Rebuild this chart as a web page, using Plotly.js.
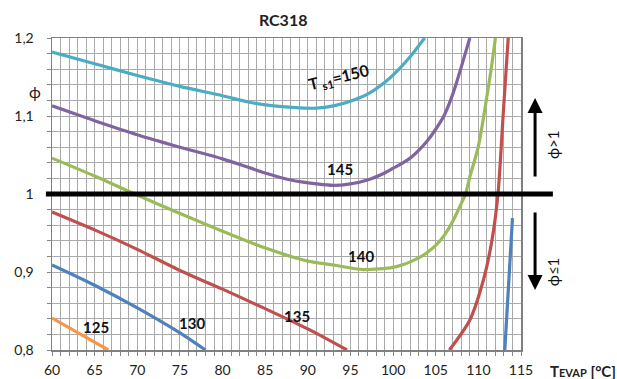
<!DOCTYPE html>
<html>
<head>
<meta charset="utf-8">
<script src="https://cdn.plot.ly/plotly-3.0.1.min.js"></script>
<style>html,body{margin:0;padding:0;background:#fff;}#chart{width:617px;height:379px;}</style>
</head>
<body>
<div id="chart"></div>
<script>
// Ts1 = 150
const x150 = [60, 65, 70, 75, 80, 83, 86, 89, 91, 93, 95, 97, 99, 100.5, 102, 103.7];
const y150 = [1.182, 1.167, 1.152, 1.138, 1.126, 1.118, 1.113, 1.1105, 1.110, 1.113, 1.119, 1.128, 1.143, 1.158, 1.176, 1.2];
// Ts1 = 145
const x145 = [60, 65, 70, 75, 80, 85, 88, 91, 93, 95, 97, 99, 100, 101, 102, 103, 104, 105, 106, 107, 108, 109];
const y145 = [1.113, 1.094, 1.076, 1.060, 1.045, 1.027, 1.018, 1.013, 1.011, 1.013, 1.018, 1.027, 1.033, 1.039, 1.046, 1.056, 1.068, 1.083, 1.101, 1.128, 1.163, 1.2];
// Ts1 = 140
const x140 = [60, 65, 70.3, 77.4, 85.2, 90, 93, 96.5, 100, 101, 102, 103, 104, 105, 106, 107, 108, 108.5, 109, 110, 111, 111.5, 112];
const y140 = [1.046, 1.023, 0.997, 0.964, 0.930, 0.914, 0.909, 0.903, 0.906, 0.909, 0.913, 0.918, 0.925, 0.934, 0.947, 0.965, 0.988, 1.0, 1.022, 1.061, 1.125, 1.160, 1.2];
// Ts1 = 135 (two branches)
const x135a = [60, 65, 70, 75, 80, 85, 90, 94.6];
const y135a = [0.977, 0.954, 0.929, 0.902, 0.878, 0.853, 0.827, 0.8];
const x135b = [106.6, 109, 110.6, 111.6, 112.3, 112.9, 113.5];
const y135b = [0.8, 0.8385, 0.890, 0.941, 1.0, 1.1, 1.2];
// Ts1 = 130 (two branches)
const x130a = [60, 65, 70, 75, 78];
const y130a = [0.909, 0.883, 0.854, 0.822, 0.8];
const x130b = [113.1, 114.0];
const y130b = [0.8, 0.969];
// Ts1 = 125
const x125 = [60, 66.6];
const y125 = [0.841, 0.8];

const yTickVals = [0.8, 0.9, 1.0, 1.1, 1.2];
const yTickText = ['0,8', '0,9', '1', '1,1', '1,2'];
const xTickVals = [60, 65, 70, 75, 80, 85, 90, 95, 100, 105, 110, 115];

const cCyan = '#4bacc6', cPurple = '#8064a2', cGreen = '#9bbb59', cRed = '#c0504d', cBlue = '#4f81bd', cOrange = '#f79646';

function tr(x, y, color) {
  return {x: x, y: y, type: 'scatter', mode: 'lines', line: {color: color, width: 3.2, shape: 'spline', smoothing: 0.8}, hoverinfo: 'skip', showlegend: false};
}

const data = [
  tr(x150, y150, cCyan),
  tr(x145, y145, cPurple),
  tr(x140, y140, cGreen),
  tr(x135a, y135a, cRed),
  tr(x135b, y135b, cRed),
  tr(x130a, y130a, cBlue),
  tr(x130b, y130b, cBlue),
  tr(x125, y125, cOrange)
];

const F = 'Lato, "Open Sans", sans-serif';
const gridC = '#a9a9a9';

const layout = {
  width: 617, height: 379,
  margin: {l: 52, r: 96, t: 38, b: 29},
  paper_bgcolor: '#ffffff', plot_bgcolor: '#ffffff',
  font: {family: F, size: 14, color: '#222'},
  title: {text: '<b>RC318</b>', font: {family: F, size: 16, color: '#222'}, x: 0.459, xanchor: 'center', y: 0.947, yanchor: 'middle'},
  xaxis: {
    range: [60, 115], tickvals: xTickVals, ticks: 'outside', ticklen: 4, tickcolor: '#888',
    showgrid: true, gridcolor: gridC, gridwidth: 1,
    showline: true, linecolor: '#808080', linewidth: 1.5, mirror: true, zeroline: false,
    ticklabelstandoff: 3,
    tickfont: {family: F, size: 14, color: '#222'},
    minor: {dtick: 1, ticks: 'outside', ticklen: 4, tickcolor: '#888', showgrid: true, gridcolor: gridC, gridwidth: 1}
  },
  yaxis: {
    range: [0.8, 1.2], tickvals: yTickVals, ticktext: yTickText, ticks: 'outside', ticklen: 4, tickcolor: '#888',
    showgrid: true, gridcolor: gridC, gridwidth: 1,
    showline: true, linecolor: '#808080', linewidth: 1.5, mirror: true, zeroline: false,
    ticklabelstandoff: 10,
    tickfont: {family: F, size: 14, color: '#222'},
    minor: {dtick: 0.02, ticks: 'outside', ticklen: 4, tickcolor: '#888', showgrid: true, gridcolor: gridC, gridwidth: 1}
  },
  shapes: [
    {type: 'line', xref: 'paper', yref: 'y', x0: -0.013, x1: 1.068, y0: 1, y1: 1, line: {color: '#000', width: 5}, layer: 'above'}
  ],
  annotations: [
    {xref: 'paper', yref: 'paper', x: -0.053, y: 0.865, text: 'ϕ', showarrow: false, font: {family: F, size: 16, color: '#222'}},
    {xref: 'paper', yref: 'paper', x: 1.058, y: -0.068, xanchor: 'left', yanchor: 'middle', showarrow: false,
     text: '<b>T<span style="font-size:11px">EVAP</span> [°C]</b>', font: {family: F, size: 15, color: '#222'}},
    {xref: 'x', yref: 'y', x: 93.7, y: 1.149, text: '<b>T <sub>s1</sub>=150</b>', textangle: -14, showarrow: false, font: {family: F, size: 16, color: '#111'}},
    {xref: 'x', yref: 'y', x: 93.8, y: 1.032, text: '<b>145</b>', showarrow: false, font: {family: F, size: 15, color: '#111'}},
    {xref: 'x', yref: 'y', x: 96.2, y: 0.921, text: '<b>140</b>', showarrow: false, font: {family: F, size: 15, color: '#111'}},
    {xref: 'x', yref: 'y', x: 88.7, y: 0.843, text: '<b>135</b>', showarrow: false, font: {family: F, size: 15, color: '#111'}},
    {xref: 'x', yref: 'y', x: 76.4, y: 0.835, text: '<b>130</b>', showarrow: false, font: {family: F, size: 15, color: '#111'}},
    {xref: 'x', yref: 'y', x: 65.2, y: 0.830, text: '<b>125</b>', showarrow: false, font: {family: F, size: 15, color: '#111'}},
    {xref: 'paper', yref: 'y', x: 1.03, y: 1.123, ax: 0, ay: 80, showarrow: true, arrowhead: 2, arrowsize: 1, arrowwidth: 3, arrowcolor: '#000', text: ''},
    {xref: 'paper', yref: 'y', x: 1.03, y: 0.877, ax: 0, ay: -79, showarrow: true, arrowhead: 2, arrowsize: 1, arrowwidth: 3, arrowcolor: '#000', text: ''},
    {xref: 'paper', yref: 'y', x: 1.092, y: 1.063, text: 'ϕ>1', textangle: -90, showarrow: false, font: {family: F, size: 15, color: '#111'}},
    {xref: 'paper', yref: 'y', x: 1.092, y: 0.9, text: 'ϕ≤1', textangle: -90, showarrow: false, font: {family: F, size: 15, color: '#111'}}
  ]
};

Plotly.newPlot('chart', data, layout, {displayModeBar: false, staticPlot: true});
</script>
</body>
</html>
